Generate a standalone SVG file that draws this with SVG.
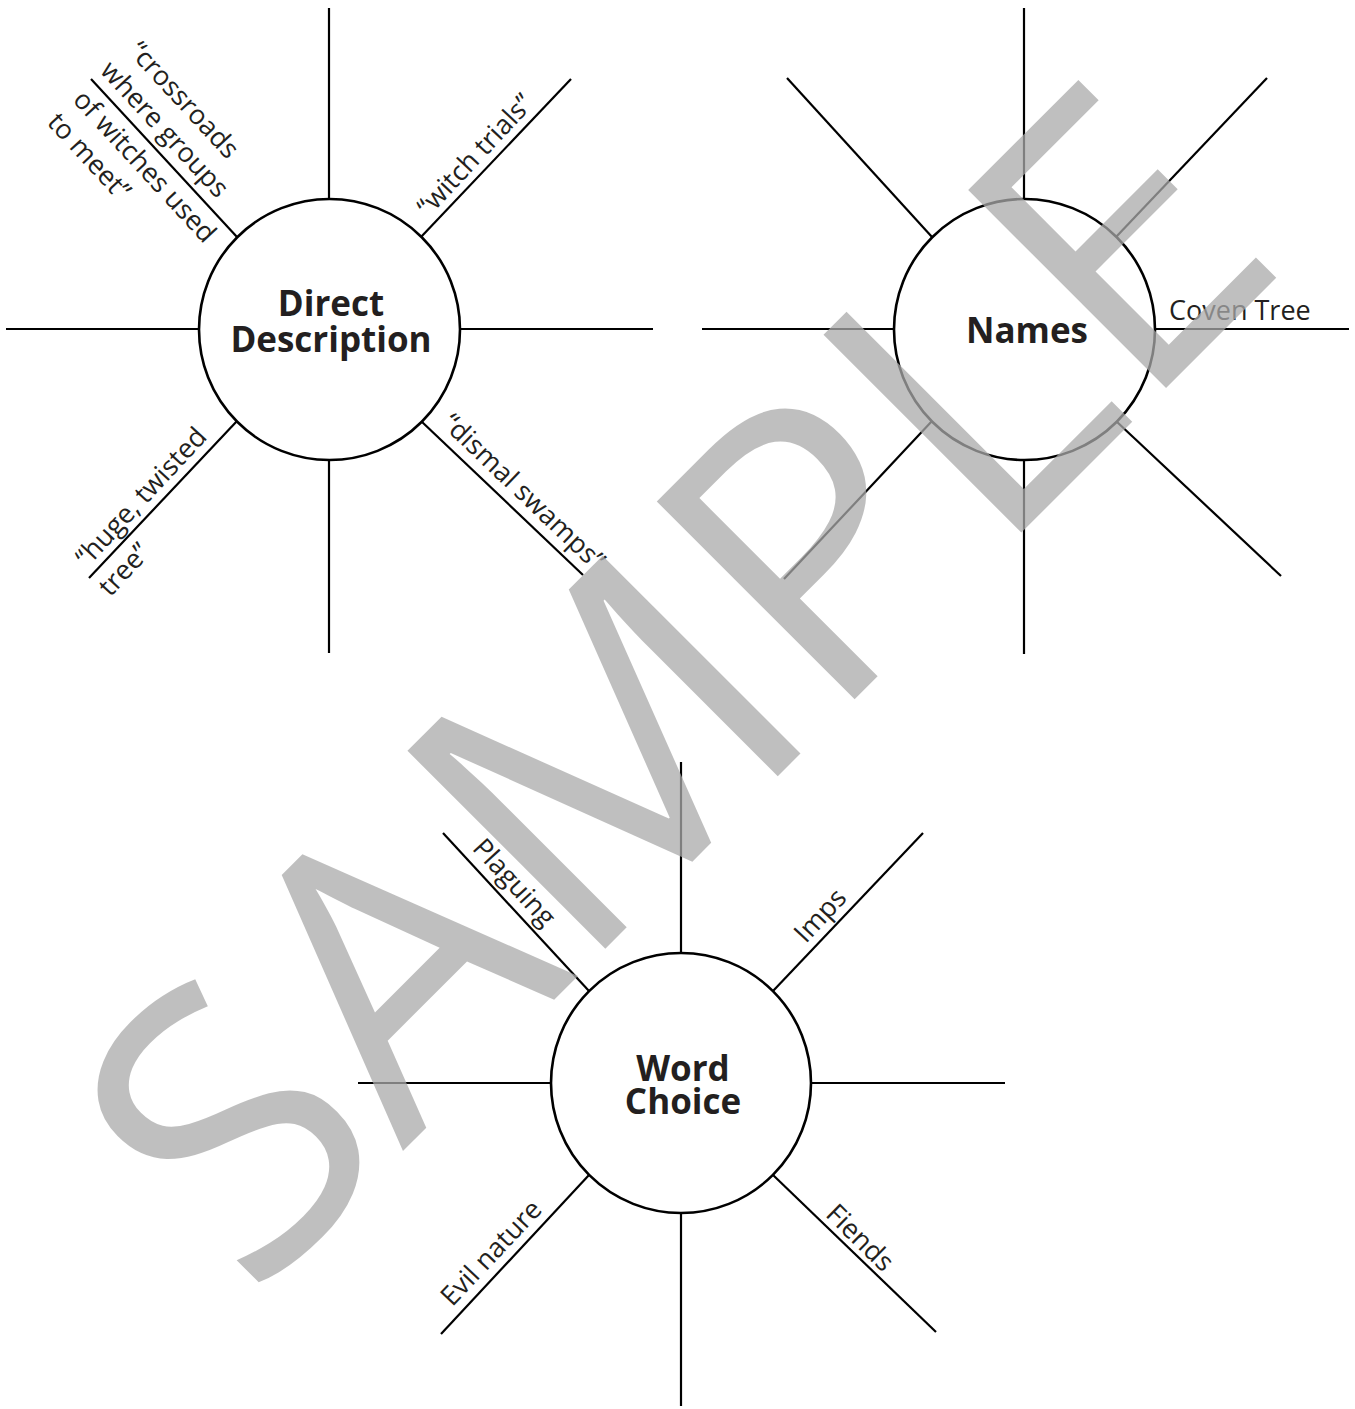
<svg xmlns="http://www.w3.org/2000/svg" width="1355" height="1409" viewBox="0 0 1355 1409">
<style>
.sp{stroke:#000;stroke-width:2.2;fill:none}
.hub{stroke:#000;stroke-width:2.6;fill:#fff}
.ttl{font-family:"Open Sans","Liberation Sans",sans-serif;font-weight:bold;font-size:35px;fill:#231f20;text-anchor:middle}
.lbl{font-family:"Open Sans","Liberation Sans",sans-serif;font-size:27px;fill:#231f20}
.wm{font-family:"Open Sans","Liberation Sans",sans-serif;font-size:392px;fill:#aaaaaa;fill-opacity:0.75;text-anchor:middle}
</style>
<rect width="1355" height="1409" fill="#fff"/>
<g id="connectors">
<line class="sp" x1="329" y1="8" x2="329" y2="199"/>
<line class="sp" x1="329" y1="460" x2="329" y2="653"/>
<line class="sp" x1="6" y1="329" x2="199" y2="329"/>
<line class="sp" x1="460" y1="329" x2="653" y2="329"/>
<line class="sp" x1="237" y1="237" x2="91" y2="79"/>
<line class="sp" x1="421" y1="237" x2="571" y2="79"/>
<line class="sp" x1="237" y1="421" x2="89" y2="578"/>
<line class="sp" x1="421" y1="421" x2="583" y2="575"/>
<line class="sp" x1="1024" y1="8" x2="1024" y2="199"/>
<line class="sp" x1="1024" y1="460" x2="1024" y2="654"/>
<line class="sp" x1="702" y1="329" x2="894" y2="329"/>
<line class="sp" x1="1154" y1="329" x2="1349" y2="329"/>
<line class="sp" x1="932" y1="237" x2="787" y2="78"/>
<line class="sp" x1="1116" y1="237" x2="1267" y2="78"/>
<line class="sp" x1="932" y1="421" x2="784" y2="579"/>
<line class="sp" x1="1116" y1="421" x2="1281" y2="576"/>
<line class="sp" x1="681" y1="762" x2="681" y2="953"/>
<line class="sp" x1="681" y1="1213" x2="681" y2="1406"/>
<line class="sp" x1="358" y1="1083" x2="551" y2="1083"/>
<line class="sp" x1="811" y1="1083" x2="1005" y2="1083"/>
<line class="sp" x1="589" y1="991" x2="443" y2="833"/>
<line class="sp" x1="773" y1="991" x2="923" y2="833"/>
<line class="sp" x1="589" y1="1175" x2="441" y2="1334"/>
<line class="sp" x1="773" y1="1175" x2="936" y2="1332"/>
</g>
<g id="node-direct-description">
<circle class="hub" cx="329.5" cy="329.5" r="130.5"/>
<text class="ttl" x="331" y="316">Direct</text>
<text class="ttl" x="331" y="352">Description</text>
</g>
<g id="node-names">
<circle class="hub" cx="1024.5" cy="329.5" r="130.5"/>
<text class="ttl" x="1027" y="343">Names</text>
</g>
<g id="node-word-choice">
<circle class="hub" cx="681" cy="1083" r="130"/>
<text class="ttl" x="683" y="1081">Word</text>
<text class="ttl" x="683" y="1114">Choice</text>
</g>
<g id="labels">
<g transform="translate(91,79) rotate(47.3)">
<text class="lbl" x="5" y="-45">“crossroads</text>
<text class="lbl" x="0" y="-11">where groups</text>
<text class="lbl" x="3" y="29">of witches used</text>
<text class="lbl" x="2" y="63">to meet”</text>
</g>
<g transform="translate(423,237) rotate(-46.9)">
<text class="lbl" x="18" y="-9">“witch trials”</text>
</g>
<g transform="translate(89,578) rotate(-47.1)">
<text class="lbl" x="6" y="-8">“huge, twisted</text>
<text class="lbl" x="0" y="29">tree”</text>
</g>
<g transform="translate(423,422) rotate(43.7)">
<text class="lbl" x="15" y="-10">“dismal swamps”</text>
</g>
<text class="lbl" x="1169" y="320">Coven Tree</text>
<g transform="translate(443,833) rotate(47.5)">
<text class="lbl" x="31" y="-10">Plaguing</text>
</g>
<g transform="translate(777,990) rotate(-47.1)">
<text class="lbl" x="53" y="-10">Imps</text>
</g>
<g transform="translate(441,1334) rotate(-46.7)">
<text class="lbl" x="27" y="-10">Evil nature</text>
</g>
<g transform="translate(776,1175) rotate(44.5)">
<text class="lbl" x="63" y="-5">Fiends</text>
</g>
</g>
<text class="wm" transform="translate(772,782) rotate(-45)" x="0" y="0">SAMPLE</text>
</svg>
